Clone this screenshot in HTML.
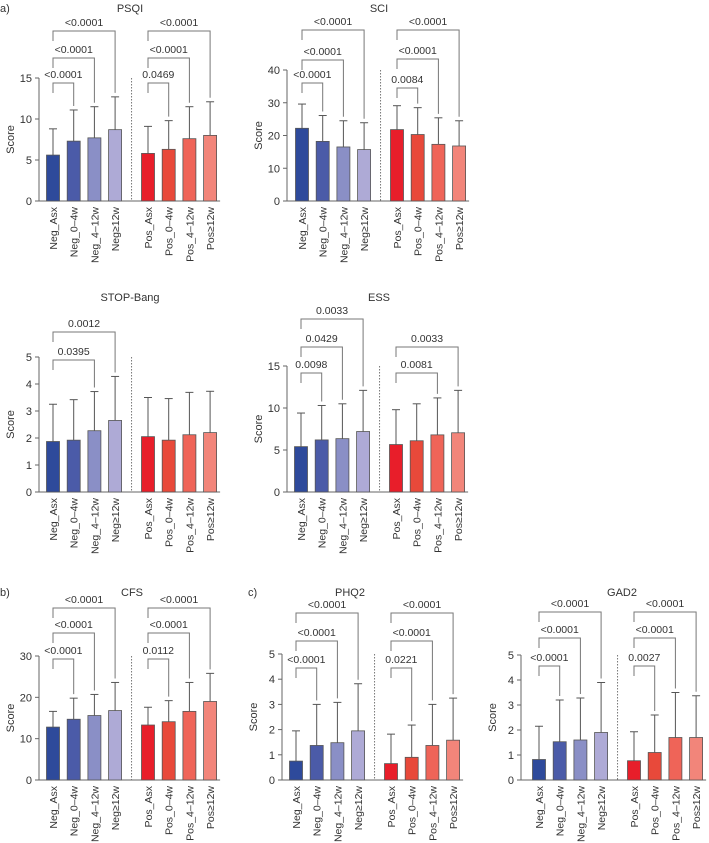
<!DOCTYPE html>
<html><head><meta charset="utf-8">
<style>
body{margin:0;background:#fff;}
svg{display:block;font-family:"Liberation Sans",sans-serif;}
</style></head>
<body>
<svg id="fig" width="709" height="843" viewBox="0 0 709 843">
<text x="0" y="12" font-size="11" fill="#333">a)</text>
<text x="0" y="596" font-size="11" fill="#333">b)</text>
<text x="248" y="596" font-size="11" fill="#333">c)</text>
</svg>
<script>
const categories = ["Neg_Asx","Neg_0\u20134w","Neg_4\u201312w","Neg\u226512w","Pos_Asx","Pos_0\u20134w","Pos_4\u201312w","Pos\u226512w"];
const psqiMeans = [5.6,7.3,7.7,8.7,5.8,6.3,7.6,8.0];
const psqiSD = [3.2,3.8,3.8,4.0,3.3,3.5,3.9,4.1];
const sciMeans = [22.2,18.2,16.5,15.7,21.8,20.3,17.3,16.8];
const sciSD = [7.4,7.9,8.0,8.2,7.3,8.2,8.1,7.7];
const stopMeans = [1.87,1.92,2.27,2.65,2.05,1.92,2.12,2.2];
const stopSD = [1.38,1.5,1.45,1.63,1.45,1.54,1.57,1.53];
const essMeans = [5.4,6.2,6.35,7.2,5.65,6.1,6.8,7.05];
const essSD = [4.0,4.1,4.15,4.9,4.15,4.4,4.4,5.05];
const cfsMeans = [12.8,14.7,15.6,16.8,13.3,14.1,16.6,19.0];
const cfsSD = [3.8,5.1,5.1,6.8,4.3,5.1,7.0,6.8];
const phqMeans = [0.75,1.37,1.48,1.95,0.65,0.9,1.37,1.58];
const phqSD = [1.2,1.63,1.6,1.87,1.17,1.28,1.63,1.67];
const gadMeans = [0.82,1.53,1.6,1.9,0.77,1.1,1.7,1.7];
const gadSD = [1.33,1.67,1.68,2.0,1.16,1.5,1.8,1.67];
const psqiTicks = [0,5,10,15];
const sciTicks = [0,10,20,30,40];
const stopTicks = [0,1,2,3,4,5];
const essTicks = [0,5,10,15];
const cfsTicks = [0,10,20,30];
const phqTicks = [0,1,2,3,4,5];
const gadTicks = [0,1,2,3,4,5];
const psqiP = [[0,1,"<0.0001"],[0,2,"<0.0001"],[0,3,"<0.0001"],[4,5,"0.0469"],[4,6,"<0.0001"],[4,7,"<0.0001"]];
const sciP = [[0,1,"<0.0001"],[0,2,"<0.0001"],[0,3,"<0.0001"],[4,5,"0.0084"],[4,6,"<0.0001"],[4,7,"<0.0001"]];
const stopP = [[0,2,"0.0395"],[0,3,"0.0012"]];
const essP = [[0,1,"0.0098"],[0,2,"0.0429"],[0,3,"0.0033"],[4,6,"0.0081"],[4,7,"0.0033"]];
const cfsP = [[0,1,"<0.0001"],[0,2,"<0.0001"],[0,3,"<0.0001"],[4,5,"0.0112"],[4,6,"<0.0001"],[4,7,"<0.0001"]];
const phqP = [[0,1,"<0.0001"],[0,2,"<0.0001"],[0,3,"<0.0001"],[4,5,"0.0221"],[4,6,"<0.0001"],[4,7,"<0.0001"]];
const gadP = [[0,1,"<0.0001"],[0,2,"<0.0001"],[0,3,"<0.0001"],[4,5,"0.0027"],[4,6,"<0.0001"],[4,7,"<0.0001"]];
const colors = ["#2e4a9b","#4b5ba8","#8a8fc6","#aeaad6","#e81e2a","#e8493a","#ef6458","#f2857a"];

const NS="http://www.w3.org/2000/svg";
const fig=document.getElementById('fig');
function mk(tag,attrs,parent){const e=document.createElementNS(NS,tag);for(const k in attrs)e.setAttribute(k,attrs[k]);(parent||fig).appendChild(e);return e;}

function panel(o){
  const g=mk('g',{});
  
  
  const yMax=o.ticks[o.ticks.length-1];
  const y=v=>o.y0-(v/yMax)*(o.y0-o.yTop);
  const x=i=>o.first+(i<4?i*20.7:95+(i-4)*20.7);
  const t=mk('text',{x:o.tx,y:o.ty,'font-size':11,'text-anchor':'middle',fill:'#333'},g);t.textContent=o.title;
  
  
  const yl=mk('text',{x:0,y:0,'font-size':11,'text-anchor':'middle',fill:'#333',transform:`translate(${o.spine-25},${(o.y0+o.yTop)/2}) rotate(-90)`},g);yl.textContent='Score';
  
  
  const end=x(7)+10;
  mk('line',{x1:o.spine,y1:o.yTop,x2:o.spine,y2:o.y0,stroke:'#666','stroke-width':1},g);
  mk('line',{x1:o.spine,y1:o.y0,x2:end,y2:o.y0,stroke:'#666','stroke-width':1},g);
  o.ticks.forEach(tv=>{
    mk('line',{x1:o.spine-4,y1:y(tv),x2:o.spine,y2:y(tv),stroke:'#666'},g);
    const tl=mk('text',{x:o.spine-7,y:y(tv)+4,'font-size':11,'text-anchor':'end',fill:'#333'},g);tl.textContent=tv;
    
    
  });
  const dx=(x(3)+x(4))/2;
  mk('line',{x1:dx,y1:o.yTop,x2:dx,y2:o.y0,stroke:'#777','stroke-dasharray':'1.5,1.5'},g);
  const tops=[];
  o.means.forEach((m,i)=>{
    const cx=x(i),top=m+o.sd[i];tops.push(y(top));
    mk('line',{x1:cx,y1:y(m),x2:cx,y2:y(top),stroke:'#555'},g);
    mk('line',{x1:cx-4,y1:y(top),x2:cx+4,y2:y(top),stroke:'#555'},g);
    const b=mk('rect',{x:cx-6.5,y:y(m),width:13,height:o.y0-y(m),fill:colors[i],stroke:'#555','stroke-width':0.8},g);
    
    
    const xl=mk('text',{x:0,y:0,'font-size':10.5,'text-anchor':'end',fill:'#333',transform:`translate(${cx+4},${o.y0+6}) rotate(-90)`},g);xl.textContent=categories[i];
    
    
  });
  o.p.forEach((p,k)=>{
    const by=o.py[k],a=x(p[0]),b=x(p[1]);
    const bottom=Math.max(by+5,tops[p[1]]-4);
    mk('path',{d:`M${a},${by+10}V${by}H${b}V${bottom}`,fill:'none',stroke:'#777','stroke-width':1},g);
    const pl=mk('text',{x:(a+b)/2,y:by-5,'font-size':10.5,'text-anchor':'middle',fill:'#333'},g);pl.textContent=p[2];
    
    
  });
}
panel({name:'psqi',title:'PSQI',tx:130,ty:12,spine:39,first:53,y0:201,yTop:78,ticks:psqiTicks,means:psqiMeans,sd:psqiSD,p:psqiP,py:[83,58,31,83,58,31]});
panel({name:'sci',title:'SCI',tx:379,ty:12,spine:287,first:302,y0:201,yTop:70,ticks:sciTicks,means:sciMeans,sd:sciSD,p:sciP,py:[83,60,30,88,59,30]});
panel({name:'stop-bang',title:'STOP-Bang',tx:130,ty:301,spine:39,first:53,y0:492,yTop:357,ticks:stopTicks,means:stopMeans,sd:stopSD,p:stopP,py:[360,332]});
panel({name:'ess',title:'ESS',tx:379,ty:301,spine:287,first:301,y0:492,yTop:366,ticks:essTicks,means:essMeans,sd:essSD,p:essP,py:[373,347,319,373,347]});
panel({name:'cfs',title:'CFS',tx:132,ty:596,spine:39,first:53,y0:780,yTop:656,ticks:cfsTicks,means:cfsMeans,sd:cfsSD,p:cfsP,py:[659,633,608,659,633,608]});
panel({name:'phq2',title:'PHQ2',tx:350,ty:596,spine:282,first:296,y0:780,yTop:654,ticks:phqTicks,means:phqMeans,sd:phqSD,p:phqP,py:[668,641,613,668,641,613]});
panel({name:'gad2',title:'GAD2',tx:622,ty:596,spine:521,first:539,y0:780,yTop:655,ticks:gadTicks,means:gadMeans,sd:gadSD,p:gadP,py:[666,638,612,666,638,612]});
</script>
</body></html>
